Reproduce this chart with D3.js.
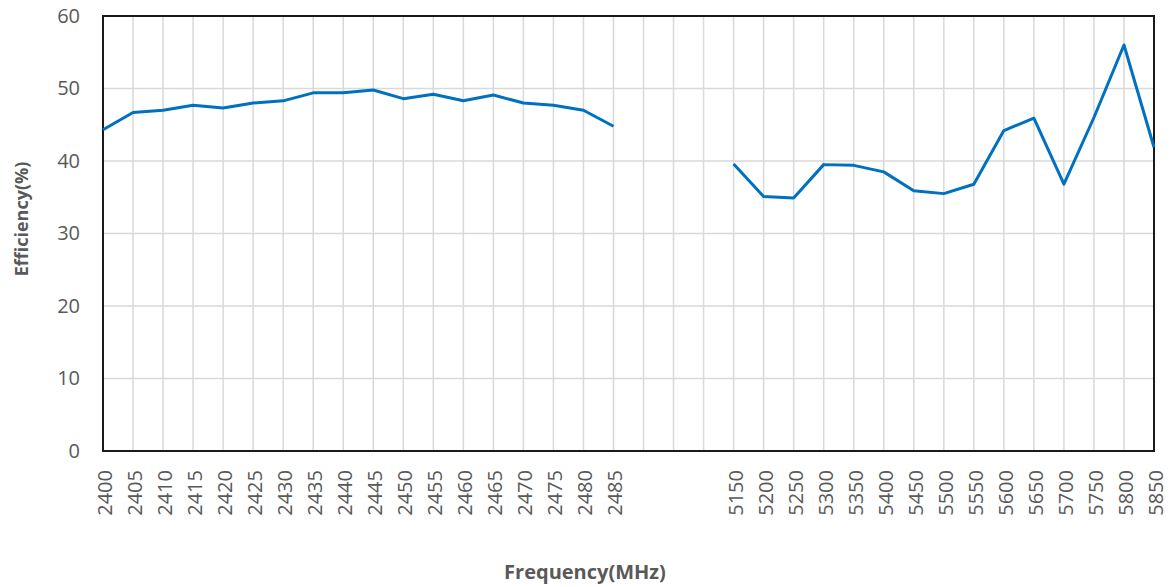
<!DOCTYPE html>
<html>
<head>
<meta charset="utf-8">
<script src="https://cdn.jsdelivr.net/npm/d3@7"></script>
<style>
  html, body { margin: 0; padding: 0; background: #fff; }
  svg { display: block; }
  text { font-family: "Open Sans", "Noto Sans", sans-serif; }
</style>
</head>
<body>
<svg id="chart" width="1171" height="587"></svg>
<script>
// ---- data ----
const categories = [
  "2400","2405","2410","2415","2420","2425","2430","2435","2440","2445",
  "2450","2455","2460","2465","2470","2475","2480","2485",
  "","","",
  "5150","5200","5250","5300","5350","5400","5450","5500","5550",
  "5600","5650","5700","5750","5800","5850"
];
const efficiency = [
  44.3, 46.7, 47.0, 47.7, 47.3, 48.0, 48.3, 49.4, 49.4, 49.8,
  48.6, 49.2, 48.3, 49.1, 48.0, 47.7, 47.0, 44.8,
  null, null, null,
  39.6, 35.1, 34.9, 39.5, 39.4, 38.5, 35.9, 35.5, 36.8,
  44.2, 45.9, 36.8, 46.0, 56.0, 41.9
];
const yTicks = [0, 10, 20, 30, 40, 50, 60];
const xTitle = "Frequency(MHz)";
const yTitle = "Efficiency(%)";

// ---- layout ----
const W = 1171, H = 587;
const margin = { top: 16, right: 17, bottom: 136, left: 103 };
const iw = W - margin.left - margin.right;
const ih = H - margin.top - margin.bottom;

const svg = d3.select("#chart");
const g = svg.append("g").attr("transform", `translate(${margin.left},${margin.top})`);

const x = d3.scalePoint().domain(d3.range(categories.length)).range([0, iw]).padding(0);
const y = d3.scaleLinear().domain([0, 60]).range([ih, 0]);

// gridlines
g.append("g").selectAll("line.h").data(yTicks).join("line")
  .attr("x1", 0).attr("x2", iw)
  .attr("y1", d => y(d)).attr("y2", d => y(d))
  .attr("stroke", "#d9d9d9").attr("stroke-width", 1.5);
g.append("g").selectAll("line.v").data(d3.range(categories.length)).join("line")
  .attr("x1", d => x(d)).attr("x2", d => x(d))
  .attr("y1", 0).attr("y2", ih)
  .attr("stroke", "#d9d9d9").attr("stroke-width", 1.5);

// y axis labels
const yAxis = d3.axisLeft(y).tickValues(yTicks).tickSize(0).tickPadding(23);
const ya = g.append("g").call(yAxis);
ya.select(".domain").remove();
ya.selectAll("text").attr("font-size", 20).attr("fill", "#595959")
  .attr("font-family", "'Open Sans', sans-serif");

// x axis labels
const xAxis = d3.axisBottom(x).tickSize(0).tickFormat(i => categories[i]);
const xa = g.append("g").attr("transform", `translate(0,${ih})`).call(xAxis);
xa.select(".domain").remove();
xa.selectAll("text")
  .attr("font-size", 20).attr("fill", "#595959")
  .attr("font-family", "'Open Sans', sans-serif")
  .attr("transform", "rotate(-90)")
  .attr("text-anchor", "end")
  .attr("dy", "0.42em")
  .attr("x", -19)
  .attr("y", 0);

// frame
g.append("rect").attr("x", 0).attr("y", 0).attr("width", iw).attr("height", ih)
  .attr("fill", "none").attr("stroke", "#1a1a1a").attr("stroke-width", 2);

// line
const line = d3.line()
  .defined(d => d.v !== null)
  .x(d => x(d.i)).y(d => y(d.v));
g.append("path")
  .datum(efficiency.map((v, i) => ({ i, v })))
  .attr("d", line)
  .attr("fill", "none").attr("stroke", "#0070c0")
  .attr("stroke-width", 3).attr("stroke-linejoin", "round");

// titles
svg.append("text").attr("x", 585).attr("y", 579)
  .attr("text-anchor", "middle").attr("font-size", 20).attr("font-weight", "bold")
  .attr("fill", "#595959").text(xTitle);
svg.append("text").attr("transform", "translate(28,219) rotate(-90)")
  .attr("text-anchor", "middle").attr("font-size", 18).attr("font-weight", "bold")
  .attr("fill", "#595959").text(yTitle);
</script>
</body>
</html>
